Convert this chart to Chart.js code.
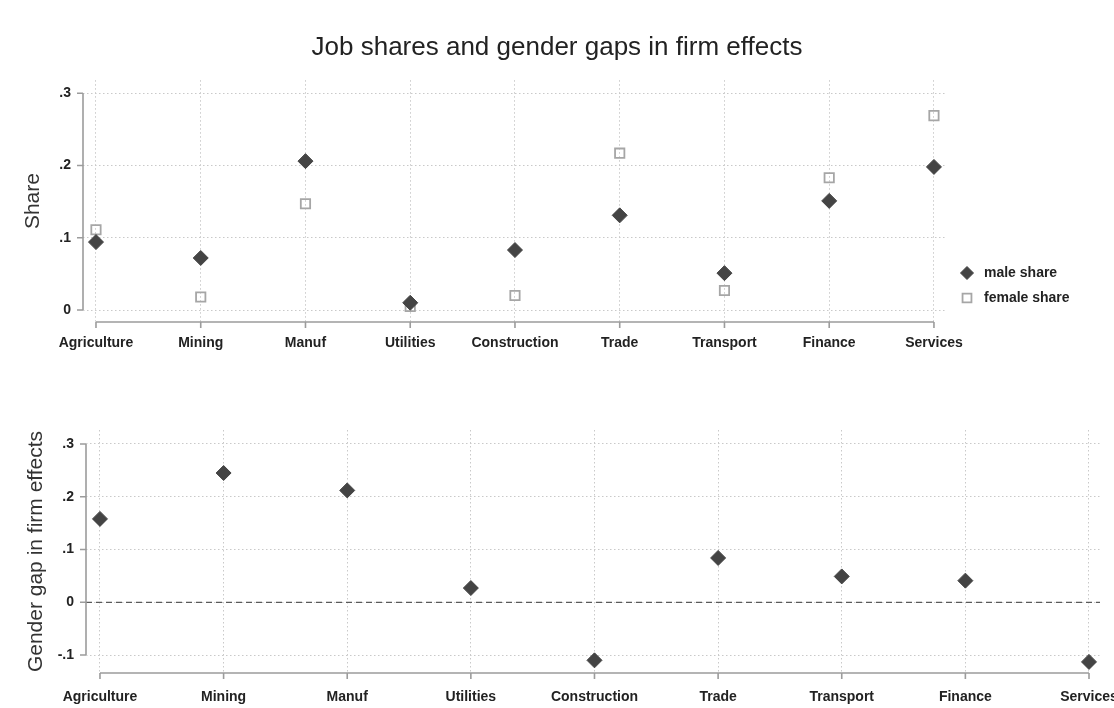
<!DOCTYPE html>
<html>
<head>
<meta charset="utf-8">
<title>Job shares and gender gaps in firm effects</title>
<script src="https://cdn.jsdelivr.net/npm/chart.js@4.4.1/dist/chart.umd.min.js"></script>
<style>
  html, body { margin: 0; padding: 0; background: #ffffff; }
  #wrap { position: relative; width: 1114px; height: 708px; overflow: hidden; background: #ffffff; }
  canvas { position: absolute; left: 0; }
  #top { top: 0; }
  #bottom { top: 370px; }
</style>
</head>
<body>
<div id="wrap">
  <canvas id="top" width="1114" height="370"></canvas>
  <canvas id="bottom" width="1114" height="338"></canvas>
</div>
<script>
// Industry categories along the x axis (shared by both panels)
const categories = ['Agriculture', 'Mining', 'Manuf', 'Utilities', 'Construction', 'Trade', 'Transport', 'Finance', 'Services'];

// Upper panel: share of jobs in each industry
const maleShare   = [0.094, 0.072, 0.206, 0.010, 0.083, 0.131, 0.051, 0.151, 0.198];
const femaleShare = [0.111, 0.018, 0.147, 0.005, 0.020, 0.217, 0.027, 0.183, 0.269];

// Lower panel: gender gap in firm effects by industry
const genderGap = [0.158, 0.245, 0.212, 0.027, -0.110, 0.084, 0.049, 0.041, -0.113];

// Tick values of the y axes
const shareTicks = [0, 0.1, 0.2, 0.3];
const gapTicks = [-0.1, 0, 0.1, 0.2, 0.3];

const FONT = "'Liberation Sans', Arial, sans-serif";
Chart.defaults.font.family = FONT;
Chart.defaults.color = '#222222';

const GRID = '#c9c9c9';
const AXIS = '#9c9c9c';
const MARK = '#444444';
const HOLLOW = '#a6a6a6';

function fmtTick(v) {
  if (Math.abs(v) < 1e-9) return '0';
  return (v < 0 ? '-' : '') + '.' + Math.round(Math.abs(v) * 10);
}

function toPoints(values) {
  return values.map((v, i) => ({ x: i, y: v }));
}

// Axis lines that run only between the first and last tick, with outward ticks
const offsetAxes = {
  id: 'offsetAxes',
  beforeDatasetsDraw(chart, args, opts) {
    const ctx = chart.ctx;
    const xs = chart.scales.x, ys = chart.scales.y;
    const area = chart.chartArea;
    ctx.save();
    // zero reference line
    if (opts.zeroLine) {
      const y0 = ys.getPixelForValue(0);
      ctx.strokeStyle = '#5a5a5a';
      ctx.lineWidth = 1.3;
      ctx.setLineDash([6, 4]);
      ctx.beginPath();
      ctx.moveTo(area.left, y0);
      ctx.lineTo(area.right, y0);
      ctx.stroke();
      ctx.setLineDash([]);
    }
    ctx.strokeStyle = AXIS;
    ctx.lineWidth = 1.6;
    // x axis
    const x0 = xs.getPixelForValue(0);
    const x1 = xs.getPixelForValue(categories.length - 1);
    const yb = area.bottom;
    ctx.beginPath();
    ctx.moveTo(x0, yb);
    ctx.lineTo(x1, yb);
    categories.forEach((c, i) => {
      const px = xs.getPixelForValue(i);
      ctx.moveTo(px, yb);
      ctx.lineTo(px, yb + 6);
    });
    ctx.stroke();
    // y axis
    const t = opts.ticks;
    const yTop = ys.getPixelForValue(t[t.length - 1]);
    const yBot = ys.getPixelForValue(t[0]);
    const xl = area.left;
    ctx.beginPath();
    ctx.moveTo(xl, yTop);
    ctx.lineTo(xl, yBot);
    t.forEach(v => {
      const py = ys.getPixelForValue(v);
      ctx.moveTo(xl, py);
      ctx.lineTo(xl - 6, py);
    });
    ctx.stroke();
    ctx.restore();
  }
};

// Legend placed in its own layout box on the right of the upper panel,
// so the title stays centred over the whole figure
const sideLegend = {
  id: 'sideLegend',
  beforeInit(chart) {
    const box = {
      position: 'right',
      weight: 10,
      fullSize: false,
      options: {},
      width: 0, height: 0, left: 0, top: 0, right: 0, bottom: 0,
      isHorizontal() { return false; },
      update(maxWidth, maxHeight) {
        this.width = 168;
        this.height = maxHeight;
      },
      draw() {
        const opts = chart.options.plugins.sideLegend || {};
        const items = opts.items || [];
        const ctx = chart.ctx;
        ctx.save();
        items.forEach(item => {
          const ds = chart.data.datasets[item.dataset];
          const mx = this.left + opts.markerOffset;
          ctx.fillStyle = ds.backgroundColor;
          ctx.strokeStyle = ds.borderColor;
          ctx.lineWidth = ds.borderWidth;
          Chart.helpers.drawPoint(ctx, {
            pointStyle: ds.pointStyle,
            radius: item.radius,
            borderWidth: ds.borderWidth,
            rotation: 0
          }, mx, item.y);
          ctx.fillStyle = '#222222';
          ctx.font = 'bold 14px ' + FONT;
          ctx.textAlign = 'left';
          ctx.textBaseline = 'middle';
          ctx.fillText(ds.label, mx + 17, item.y);
        });
        ctx.restore();
      }
    };
    Chart.layouts.addBox(chart, box);
  }
};

function xScale(min, max, dims) {
  return {
    type: 'linear',
    min: min,
    max: max,
    afterBuildTicks(scale) { scale.ticks = categories.map((c, i) => ({ value: i })); },
    afterFit(scale) { scale.height = dims.height; scale.paddingLeft = 0; scale.paddingRight = 0; },
    ticks: {
      autoSkip: false,
      maxRotation: 0,
      minRotation: 0,
      padding: dims.label,
      color: '#222222',
      font: { size: 14, weight: 'bold' },
      callback: (v) => categories[Math.round(v)] || ''
    },
    grid: { color: GRID, lineWidth: 1, drawTicks: false },
    border: { display: false, dash: [1.5, 2.5] }
  };
}

function yScale(min, max, tickList, width, titleText, titlePad) {
  return {
    type: 'linear',
    min: min,
    max: max,
    afterBuildTicks(scale) { scale.ticks = tickList.map(v => ({ value: v })); },
    afterFit(scale) { scale.width = width; scale.paddingTop = 0; scale.paddingBottom = 0; },
    ticks: {
      padding: 12,
      color: '#222222',
      font: { size: 14, weight: 'bold' },
      callback: (v) => fmtTick(v)
    },
    grid: { color: GRID, lineWidth: 1, drawTicks: false },
    border: { display: false, dash: [1.5, 2.5] },
    title: {
      display: true,
      text: titleText,
      color: '#333333',
      font: { size: 21, weight: 'normal' },
      padding: { top: titlePad, bottom: 0 }
    }
  };
}

// Upper panel: job shares
new Chart(document.getElementById('top'), {
  type: 'scatter',
  data: {
    datasets: [
      {
        label: 'male share',
        data: toPoints(maleShare),
        pointStyle: 'rectRot',
        pointRadius: 7.5,
        pointHoverRadius: 7.5,
        backgroundColor: MARK,
        borderColor: MARK,
        borderWidth: 1
      },
      {
        label: 'female share',
        data: toPoints(femaleShare),
        pointStyle: 'rect',
        pointRadius: 6.6,
        pointHoverRadius: 6.6,
        backgroundColor: 'rgba(255,255,255,0)',
        borderColor: HOLLOW,
        borderWidth: 1.8
      }
    ]
  },
  options: {
    responsive: false,
    animation: false,
    devicePixelRatio: 1,
    layout: { padding: { left: 0, right: 0, top: 0, bottom: 0 } },
    scales: {
      x: xScale(-0.124, 8.115, { height: 48, label: 13 }),
      y: yScale(-0.0166, 0.318, shareTicks, 83, 'Share', 21)
    },
    plugins: {
      title: {
        display: true,
        text: 'Job shares and gender gaps in firm effects',
        color: '#222222',
        font: { size: 26, weight: 'normal' },
        padding: { top: 32, bottom: 17 }
      },
      legend: { display: false },
      tooltip: { enabled: false },
      offsetAxes: { ticks: shareTicks, zeroLine: false },
      sideLegend: {
        markerOffset: 21,
        items: [
          { dataset: 0, y: 273, radius: 6.5 },
          { dataset: 1, y: 298, radius: 6.3 }
        ]
      }
    }
  },
  plugins: [offsetAxes, sideLegend]
});

// Lower panel: gender gap in firm effects
new Chart(document.getElementById('bottom'), {
  type: 'scatter',
  data: {
    datasets: [
      {
        label: 'gender gap',
        data: toPoints(genderGap),
        pointStyle: 'rectRot',
        pointRadius: 7.5,
        pointHoverRadius: 7.5,
        backgroundColor: MARK,
        borderColor: MARK,
        borderWidth: 1
      }
    ]
  },
  options: {
    responsive: false,
    animation: false,
    devicePixelRatio: 1,
    layout: { padding: { left: 0, right: 14, top: 60, bottom: 0 } },
    scales: {
      x: xScale(-0.113, 8.089, { height: 35, label: 16 }),
      y: yScale(-0.134, 0.3265, gapTicks, 86, 'Gender gap in firm effects', 24)
    },
    plugins: {
      legend: { display: false },
      tooltip: { enabled: false },
      offsetAxes: { ticks: gapTicks, zeroLine: true }
    }
  },
  plugins: [offsetAxes]
});
</script>
</body>
</html>
